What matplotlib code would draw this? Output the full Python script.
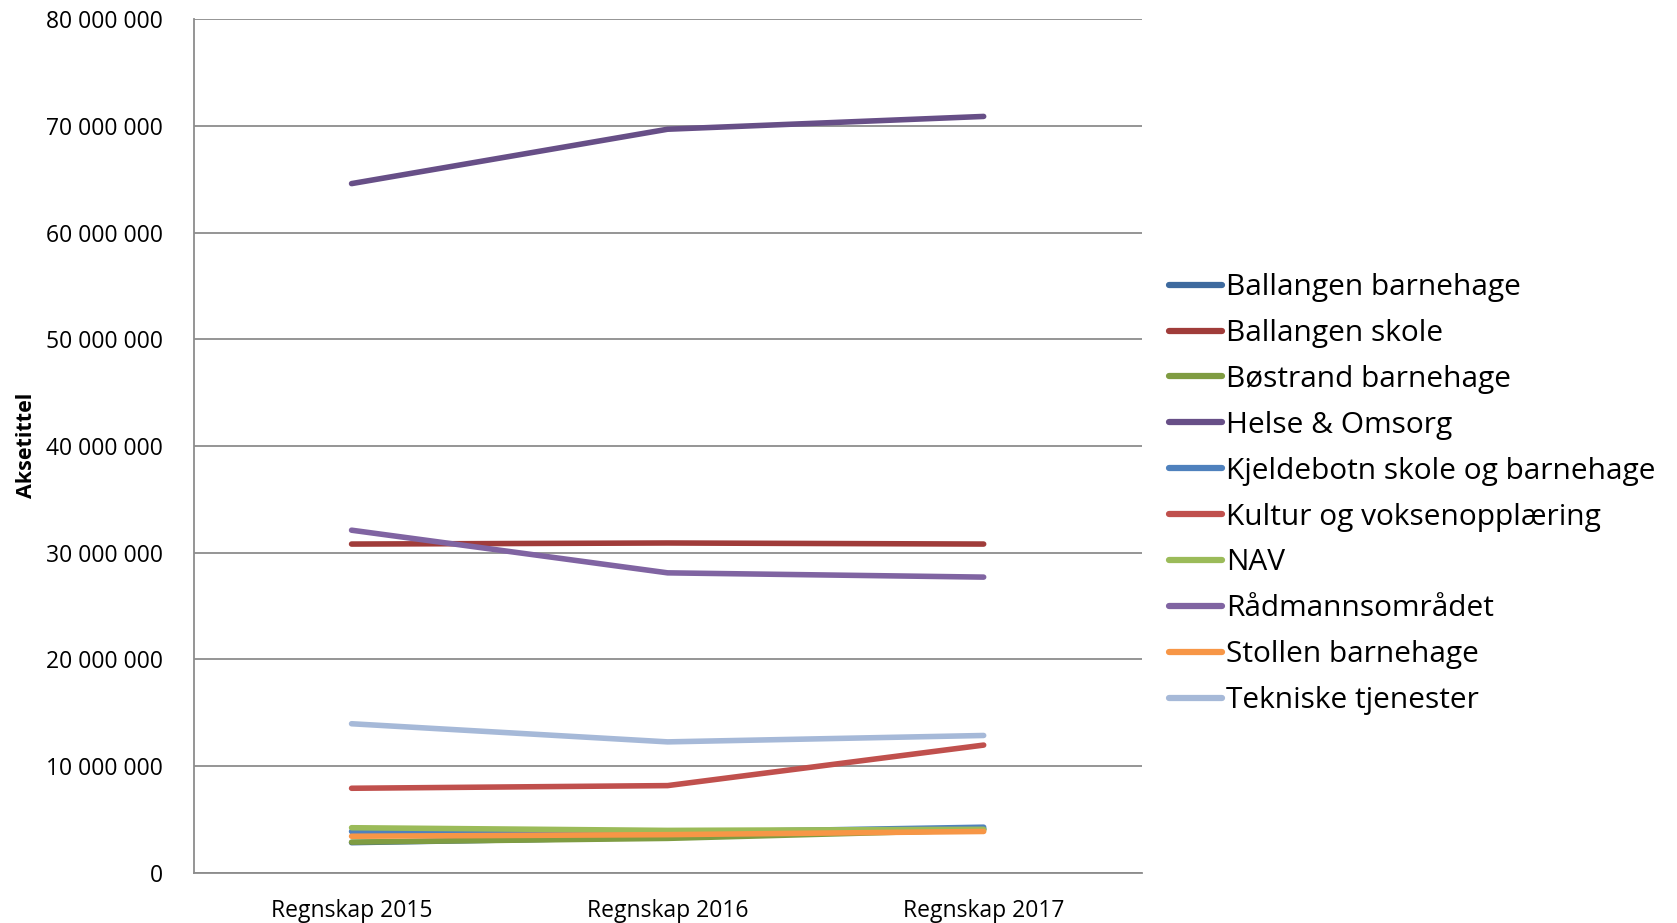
import matplotlib
matplotlib.use("Agg")
import matplotlib.pyplot as plt
from matplotlib.ticker import FuncFormatter, MultipleLocator

plt.rcParams['font.family'] = ['Open Sans', 'DejaVu Sans']

# Data
years = ["Regnskap 2015", "Regnskap 2016", "Regnskap 2017"]
series_names = [
    "Ballangen barnehage",
    "Ballangen skole",
    "Bøstrand barnehage",
    "Helse & Omsorg",
    "Kjeldebotn skole og barnehage",
    "Kultur og voksenopplæring",
    "NAV",
    "Rådmannsområdet",
    "Stollen barnehage",
    "Tekniske tjenester",
]
ballangen_barnehage = [2800000, 3300000, 4100000]
ballangen_skole = [30800000, 30900000, 30800000]
bostrand_barnehage = [2850000, 3200000, 4000000]
helse_omsorg = [64600000, 69700000, 70900000]
kjeldebotn = [3850000, 3750000, 4250000]
kultur = [7900000, 8150000, 11950000]
nav = [4200000, 3950000, 4050000]
radmann = [32100000, 28100000, 27700000]
stollen = [3400000, 3550000, 3850000]
tekniske = [13950000, 12250000, 12850000]

values = [ballangen_barnehage, ballangen_skole, bostrand_barnehage, helse_omsorg,
          kjeldebotn, kultur, nav, radmann, stollen, tekniske]
colors = ["#3E6A9E", "#A03C3A", "#7F9C42", "#674F87", "#4F81BD",
          "#C0504D", "#9BBB59", "#8064A2", "#F79646", "#A6B9D8"]

fig = plt.figure(figsize=(16.77, 9.23), dpi=100)
ax = fig.add_axes([0.1154, 0.0547, 0.5654, 0.9243])

x = range(len(years))
for name, vals, col in zip(series_names, values, colors):
    ax.plot(x, vals, color=col, linewidth=4, label=name, solid_capstyle='round')

ax.set_xlim(-0.5, 2.5)
ax.set_ylim(0, 80000000)
ax.yaxis.set_major_locator(MultipleLocator(10000000))
ax.yaxis.set_major_formatter(FuncFormatter(lambda v, p: f"{v:,.0f}".replace(",", " ")))
ax.set_xticks(list(x))
ax.set_xticklabels(years)
ax.tick_params(axis='both', length=0, labelsize=16.5)
ax.tick_params(axis='x', pad=19)
ax.tick_params(axis='y', pad=22)
ax.grid(axis='y', color='#8C8C8C', linewidth=1.3)
ax.set_axisbelow(True)
for s in ['top', 'right']:
    ax.spines[s].set_visible(False)
for s in ['left', 'bottom']:
    ax.spines[s].set_color('#8C8C8C')
    ax.spines[s].set_linewidth(1.3)

fig.text(0.016, 0.517, "Aksetittel", rotation=90, fontsize=15.5, fontweight='bold',
         va='center', ha='center')

leg = fig.legend(loc='upper left', bbox_to_anchor=(0.6968, 0.704), frameon=False,
                 fontsize=21.5, handlelength=1.8, handletextpad=0.13, labelspacing=0.565,
                 borderpad=0, borderaxespad=0)
for h in leg.get_lines():
    h.set_linewidth(4.5)

fig.savefig("out.png", dpi=100)
